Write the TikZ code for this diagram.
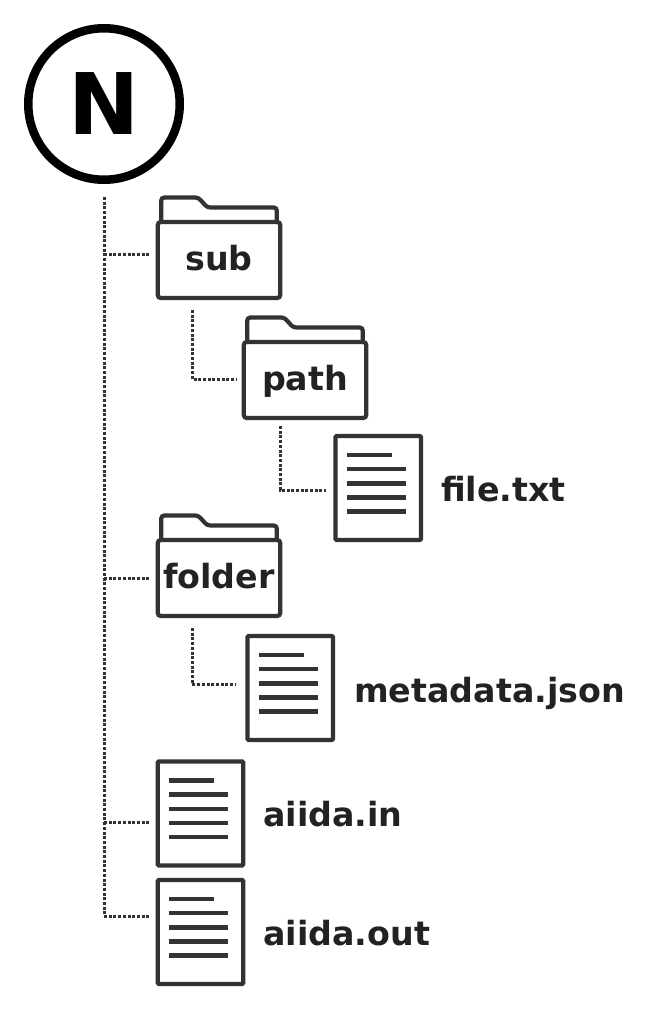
\documentclass[tikz,border=0pt]{standalone}
\usepackage{fontspec}
\setmainfont{DejaVu Sans}
\usetikzlibrary{calc}

\definecolor{iconcol}{HTML}{333333}
\definecolor{textcol}{HTML}{222222}

\tikzset{
 folderbox/.style={draw=iconcol, line width=4.2, outer sep=0, rounded corners=3, minimum width=122.5, minimum height=76, inner sep=0, text=textcol, font=\fontsize{33.3}{36}\selectfont\bfseries, text height=21.8, text depth=0},
 tabline/.style={draw=iconcol, line width=4.2, rounded corners=3},
 docbox/.style={draw=iconcol, line width=4.2, outer sep=0, rounded corners=1, minimum width=85.5, minimum height=104, inner sep=0},
 docline/.style={draw=iconcol, line width=4.4},
 doclabel/.style={anchor=base west, inner sep=0, text=textcol, font=\fontsize{33.3}{36}\selectfont\bfseries},
 treeline/.style={draw=iconcol, line width=3, dash pattern=on 3 off 1.7},
}

% tab on top of a folder
\newcommand{\foldertab}[1]{
 \draw[tabline] ([shift={(3.5,0)}]#1.north west) --++(0,-24.5) --++(37,0) --++(9,10) --++(69.5,0) --++(0,14.5);
}
% text rows of a document
\newcommand{\docrows}[1]{
 \draw[docline] ([shift={(11.5,19)}]#1.north west) --++(45,0);
 \foreach \r in {33,47.5,61.5,75.5} {
  \draw[docline] ([shift={(11.5,\r)}]#1.north west) --++(59,0);
 }
}

\begin{document}
\begin{tikzpicture}[x=1pt, y=-1pt]
\useasboundingbox (0,0) rectangle (646,1010);

\node[circle, draw=black, line width=8.5, outer sep=0, minimum size=151.5, inner sep=0, font=\fontsize{85}{90}\selectfont\bfseries] (root) at (104,104) {N};

% folders
\node[folderbox] (sub) at (219,260) {sub};
\node[folderbox] (path) at (305,380) {path};
\node[folderbox] (folder) at (219,578) {folder};
\foreach \n in {sub,path,folder} {
 \foldertab{\n}
}

% documents
\node[docbox] (file) at (378.25,488) {};
\node[docbox] (metadata) at (290.25,688) {};
\node[docbox] (aiidain) at (200.5,813.5) {};
\node[docbox] (aiidaout) at (200.5,932) {};
\foreach \n in {file,metadata,aiidain,aiidaout} {
 \docrows{\n}
}

\node[doclabel] (filelabel) at (441,501) {file.txt};
\node[doclabel] (metadatalabel) at (354,702) {metadata.json};
\node[doclabel] (aiidainlabel) at (263,826) {aiida.in};
\node[doclabel] (aiidaoutlabel) at (263,945) {aiida.out};

% free ends of the dotted lines
\coordinate (trunktop) at (104,197);
\coordinate (subin) at (150,254);
\coordinate (folderin) at (150,578);
\coordinate (aiidainin) at (150,822);
\coordinate (aiidaoutin) at (150,916);
\coordinate (subout) at (192,310);
\coordinate (pathin) at (236,379);
\coordinate (pathout) at (280,426);
\coordinate (filein) at (326,490);
\coordinate (folderout) at (192,628);
\coordinate (metadatain) at (236,684);

\draw[treeline] (trunktop) |- (aiidaoutin);
\foreach \b in {subin,folderin,aiidainin} {
 \draw[treeline] (trunktop |- \b) -- (\b);
}
\draw[treeline] (subout) |- (pathin);
\draw[treeline] (pathout) |- (filein);
\draw[treeline] (folderout) |- (metadatain);
\end{tikzpicture}
\end{document}
